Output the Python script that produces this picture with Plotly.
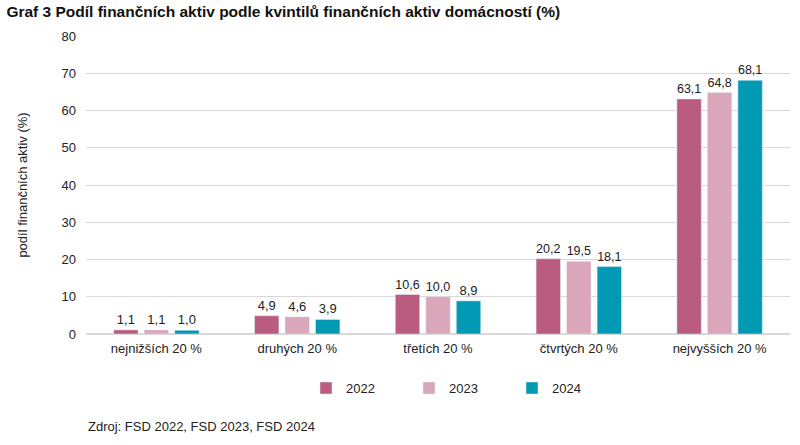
import plotly.graph_objects as go

categories = ["nejnižších 20 %", "druhých 20 %", "třetích 20 %", "čtvrtých 20 %", "nejvyšších 20 %"]
years = ["2022", "2023", "2024"]
values_2022 = [1.1, 4.9, 10.6, 20.2, 63.1]
values_2023 = [1.1, 4.6, 10.0, 19.5, 64.8]
values_2024 = [1.0, 3.9, 8.9, 18.1, 68.1]
colors = ["#B95C80", "#D9A7B9", "#0199B4"]

fig = go.Figure()
for name, vals, col in zip(years, [values_2022, values_2023, values_2024], colors):
    fig.add_trace(go.Bar(
        x=categories, y=vals, name=name, marker_color=col,
        text=[f"{v:.1f}".replace(".", ",") for v in vals],
        textposition="outside", cliponaxis=False,
        textfont=dict(size=13, color="#222222"),
    ))

fig.update_layout(
    width=800, height=445,
    margin=dict(l=86, r=10, t=36, b=111, autoexpand=False),
    paper_bgcolor="white", plot_bgcolor="white",
    font=dict(family="Liberation Sans, Arial", size=13, color="#222222"),
    barmode="group", bargap=0.35, bargroupgap=0.2,
    title=dict(text="<b>Graf 3 Podíl finančních aktiv podle kvintilů finančních aktiv domácností (%)</b>",
               x=0.008, xref="container", xanchor="left", y=0.973, yref="container", yanchor="middle",
               font=dict(size=15.5, color="#111111")),
    legend=dict(orientation="h", x=0.3825, xref="container", xanchor="left",
                y=0.128, yref="container", yanchor="middle",
                font=dict(size=13), itemwidth=30, traceorder="normal",
                entrywidth=58, entrywidthmode="pixels"),
    showlegend=True,
)
fig.update_yaxes(range=[0, 80], dtick=10, showgrid=True, gridcolor="#D9D9D9", gridwidth=1,
                 zeroline=True, zerolinecolor="#D9D9D9", ticks="", ticklen=0, automargin=False,
                 ticklabelstandoff=9,
                 title=dict(text="podíl finančních aktiv (%)", font=dict(size=13), standoff=30),
                 tickfont=dict(size=13))
fig.update_xaxes(showline=False, ticks="", tickfont=dict(size=13), automargin=False,
                 ticklabelstandoff=5)

fig.add_annotation(text="Zdroj: FSD 2022, FSD 2023, FSD 2024", xref="paper", yref="paper",
                   x=0.0, xanchor="left", y=-0.312, yanchor="middle", showarrow=False,
                   font=dict(size=13, color="#222222"))

fig.write_html("out.html", config={"displayModeBar": False},
               post_script="document.body.style.margin='0px';")
